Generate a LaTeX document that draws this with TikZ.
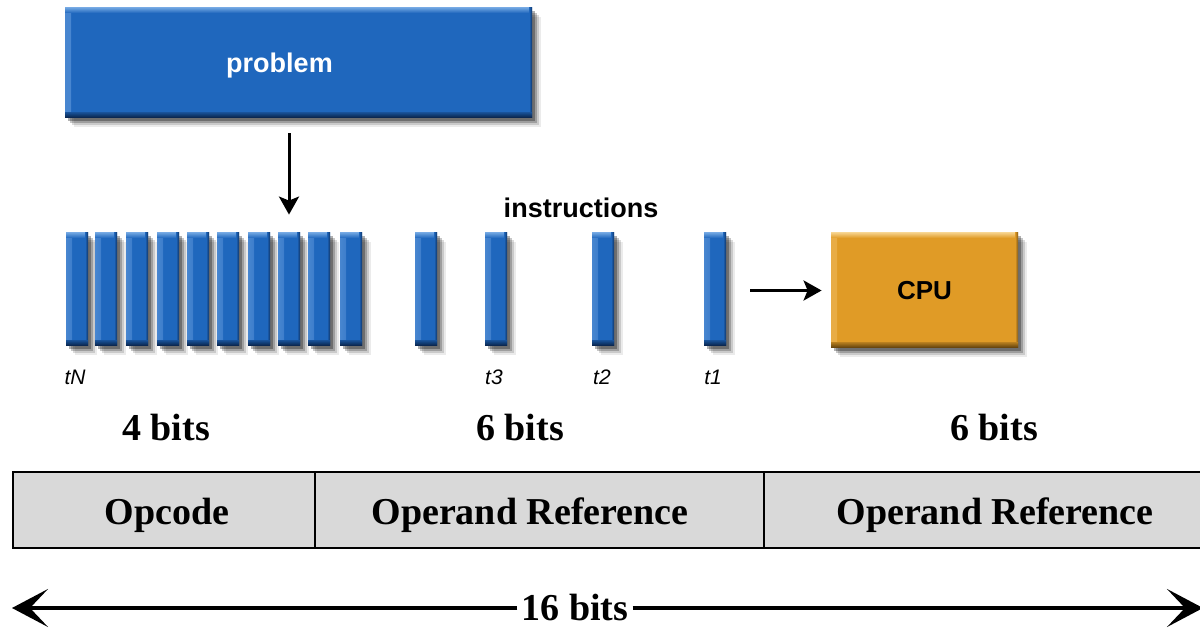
\documentclass[tikz,border=0pt]{standalone}
\usepackage{fontspec}
\setmainfont{Liberation Serif}
\setsansfont{Liberation Sans}
\usetikzlibrary{arrows.meta,shadows,calc}
\definecolor{cBlue}{RGB}{31,103,189}
\definecolor{cBlueM}{RGB}{72,134,208}
\definecolor{cBlueL}{RGB}{105,160,222}
\definecolor{cBlueD}{RGB}{8,32,68}
\definecolor{cOr}{RGB}{224,155,38}
\definecolor{cOrM}{RGB}{232,172,70}
\definecolor{cOrL}{RGB}{244,205,130}
\definecolor{cOrD}{RGB}{90,60,12}
\definecolor{cCell}{RGB}{217,217,217}
\tikzset{
  softshadow/.style={
    drop shadow={shadow xshift=1.5pt,shadow yshift=-1.5pt,opacity=0.3,fill=black},
    drop shadow={shadow xshift=2.5pt,shadow yshift=-2.5pt,opacity=0.22,fill=black},
    drop shadow={shadow xshift=3.5pt,shadow yshift=-3.5pt,opacity=0.14,fill=black},
    drop shadow={shadow xshift=4.5pt,shadow yshift=-4.5pt,opacity=0.08,fill=black}},
  bevel/.style n args={4}{fill=#1, draw=none, inner sep=0pt, softshadow,
    path picture={
      \shade[left color=#2,right color=#1] (path picture bounding box.north west) rectangle ([xshift=3pt]path picture bounding box.south west);
      \shade[top color=#3,bottom color=#1] (path picture bounding box.north west) rectangle ([yshift=-2.5pt]path picture bounding box.north east);
      \shade[left color=#1,right color=#4!70!#1] ([xshift=-1.5pt]path picture bounding box.north east) rectangle (path picture bounding box.south east);
      \shade[top color=#1!60!#4,bottom color=#4] ([yshift=2.5pt]path picture bounding box.south west) rectangle (path picture bounding box.south east);
    }},
  bar/.style={bevel={cBlue}{cBlueM}{cBlueL}{cBlueD}, minimum width=11pt, minimum height=56.5pt},
  probbox/.style={bevel={cBlue}{cBlueM}{cBlueL}{cBlueD}, minimum width=233.5pt, minimum height=55pt},
  cpubox/.style={bevel={cOr}{cOrM}{cOrL}{cOrD}, minimum width=93.5pt, minimum height=57.5pt,
    font=\sffamily\bfseries\fontsize{13}{15}\selectfont},
  bigarrow/.style={line width=1.5pt, -{Stealth[length=9pt,width=10pt,inset=2pt]}},
  dimarrow/.style={line width=1.7pt, -{Stealth[length=18pt,width=19pt,inset=9pt]}},
  tlabel/.style={font=\sffamily\itshape\fontsize{10.5}{12}\selectfont, inner sep=0pt},
  bitslabel/.style={font=\bfseries\fontsize{19}{22}\selectfont, inner sep=0pt},
  headlabel/.style={font=\sffamily\bfseries\fontsize{13.5}{16}\selectfont, inner sep=0pt},
  cell/.style={draw=black, line width=1.3pt, fill=cCell, minimum height=38pt, inner sep=0pt},
  celltext/.style={font=\bfseries\fontsize{19}{22}\selectfont, yshift=-2.5pt}
}
\begin{document}
\begin{tikzpicture}[x=0.5pt,y=-0.5pt]
\useasboundingbox (0,0) rectangle (1200,630);

% problem box
\node[probbox, label={[xshift=-9.5pt,yshift=-1.5pt,text=white,headlabel]center:problem}] (problem) at (298.5,63) {};

% instruction bars
\node[bar] (b1) at (77,289.5) {};
\node[bar] (b2) at (106,289.5) {};
\node[bar] (b3) at (137,289.5) {};
\node[bar] (b4) at (168,289.5) {};
\node[bar] (b5) at (198,289.5) {};
\node[bar] (b6) at (228,289.5) {};
\node[bar] (b7) at (259,289.5) {};
\node[bar] (b8) at (289,289.5) {};
\node[bar] (b9) at (319,289.5) {};
\node[bar] (b10) at (351,289.5) {};
\node[bar] (b11) at (426,289.5) {};
\node[bar] (bt3) at (496,289.5) {};
\node[bar] (bt2) at (603,289.5) {};
\node[bar] (bt1) at (715,289.5) {};

\node[headlabel] (instr) at (581,208) {instructions};

\node[tlabel] (tN) at (75,377) {tN};
\node[tlabel] (t3) at (494,377) {t3};
\node[tlabel] (t2) at (602,377) {t2};
\node[tlabel] (t1) at (713,377) {t1};

% CPU
\node[cpubox] (cpu) at (924.5,290.5) {CPU};

% arrows
\draw[bigarrow] ([yshift=-7.5pt]problem.south -| b8.north) -- ([yshift=9pt]b8.north);
\draw[bigarrow] ([xshift=12pt]bt1.east |- cpu.west) -- ([xshift=-4.5pt]cpu.west);

% bit labels
\node[bitslabel] (l4) at (166,428) {4 bits};
\node[bitslabel] (l6a) at (520,428) {6 bits};
\node[bitslabel] (l6b) at (994,428) {6 bits};

% instruction format
\node[cell, minimum width=151pt, label={[celltext,xshift=1.5pt]center:Opcode}] (opc) at (164,510) {};
\node[cell, minimum width=224.5pt, label={[celltext,xshift=-4.75pt]center:Operand Reference}] (opr1) at (539.5,510) {};
\node[cell, minimum width=219.5pt, label={[celltext,xshift=5.75pt]center:Operand Reference}] (opr2) at (983.5,510) {};

% 16 bits arrow
\coordinate (L) at (12,608);
\coordinate (R) at (1203,608);
\node[bitslabel, fill=white, inner sep=2pt] (sixteen) at (575,608) {16 bits};
\draw[dimarrow] (sixteen.west) -- (L);
\draw[dimarrow] (sixteen.east) -- (R);
\end{tikzpicture}
\end{document}
